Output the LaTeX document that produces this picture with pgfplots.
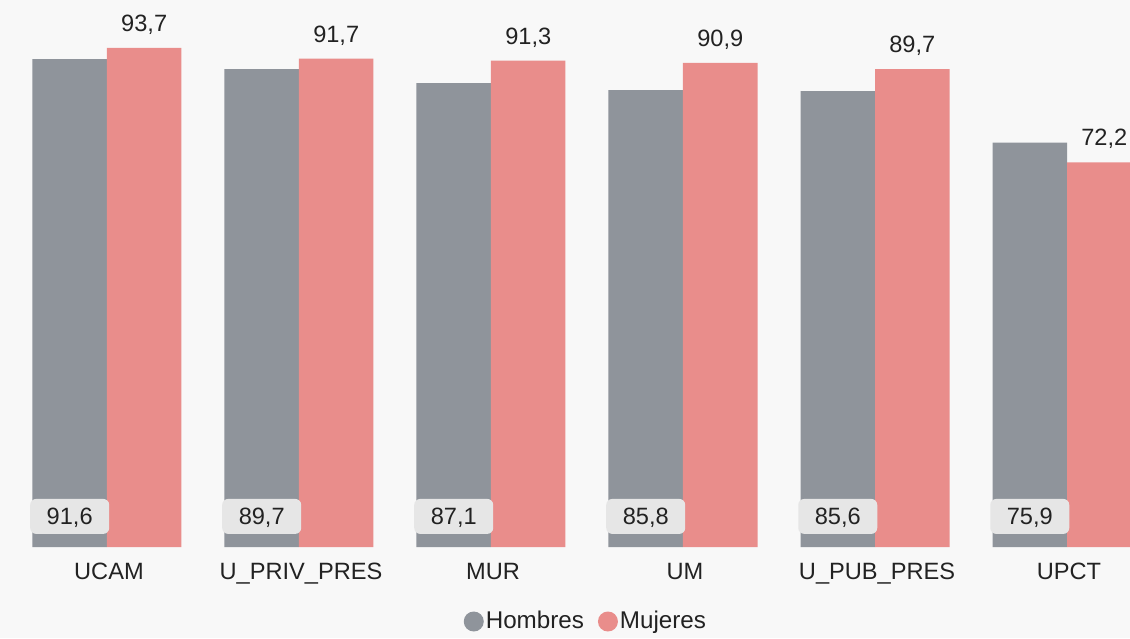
\documentclass[border=0pt]{standalone}
\usepackage{pgfplots}
\pgfplotsset{compat=1.18}
\usepackage{fontspec}
\setmainfont{Liberation Sans}
\definecolor{bg}{RGB}{248,248,248}
\definecolor{hcol}{RGB}{143,148,155}
\definecolor{mcol}{RGB}{233,141,139}
\definecolor{txt}{RGB}{34,34,34}
\definecolor{boxc}{RGB}{230,230,230}
\newcommand{\ff}{\fontsize{11.8}{14}\selectfont}
\newcommand{\fl}{\fontsize{12.1}{14}\selectfont}
\begin{document}
\begin{tikzpicture}
\fill[bg] (0,0) rectangle (565pt,319pt);
\begin{axis}[
 at={(0pt,45.5pt)}, anchor=south west,
 scale only axis, width=565pt, height=273.5pt,
 xmin=-0.557, xmax=5.328, ymin=0, ymax=102.7,
 ybar=0pt, bar width=37.25pt,
 axis line style={draw=none}, major tick length=0pt,
 ytick=\empty,
 xtick={0,1,2,3,4,5},
 xticklabels={UCAM,U\_PRIV\_PRES,MUR,UM,U\_PUB\_PRES,UPCT},
 xticklabel style={anchor=base, yshift=-16pt, xshift=1pt, font=\ff, text=txt, inner sep=0pt},
 legend style={at={(axis description cs:0.5185,-0.1362)}, anchor=center, draw=none, fill=none,
   font=\fl, text=txt, nodes={inner sep=1pt},
   /tikz/every even column/.append style={column sep=6pt}},
 legend columns=2,
]
\addplot[fill=hcol, draw=none, point meta=explicit symbolic, nodes near coords,
  visualization depends on={y \as \rawy},
  nodes near coords style={anchor=center, fill=boxc, rounded corners=3pt,
    minimum width=39.5pt, minimum height=17.5pt, inner sep=0pt,
    text height=8.5pt, text depth=0pt, font=\ff, text=txt,
    yshift={15.25pt-\rawy*2.6625pt}},
  legend image code/.code={\fill[hcol] (2.5pt,0pt) circle (5pt);}]
  coordinates {(0,91.6)[91,6] (1,89.7)[89,7] (2,87.1)[87,1] (3,85.8)[85,8] (4,85.6)[85,6] (5,75.9)[75,9]};
\addlegendentry{Hombres}
\addplot[fill=mcol, draw=none, point meta=explicit symbolic, nodes near coords,
  nodes near coords style={anchor=base, yshift=8.25pt, font=\ff, text=txt, inner sep=0pt},
  legend image code/.code={\fill[mcol] (2.5pt,0pt) circle (5pt);}]
  coordinates {(0,93.7)[93,7] (1,91.7)[91,7] (2,91.3)[91,3] (3,90.9)[90,9] (4,89.7)[89,7] (5,72.2)[72,2]};
\addlegendentry{Mujeres}
\end{axis}
\pgfresetboundingbox
\useasboundingbox (0,0) rectangle (565pt,319pt);
\end{tikzpicture}
\end{document}
